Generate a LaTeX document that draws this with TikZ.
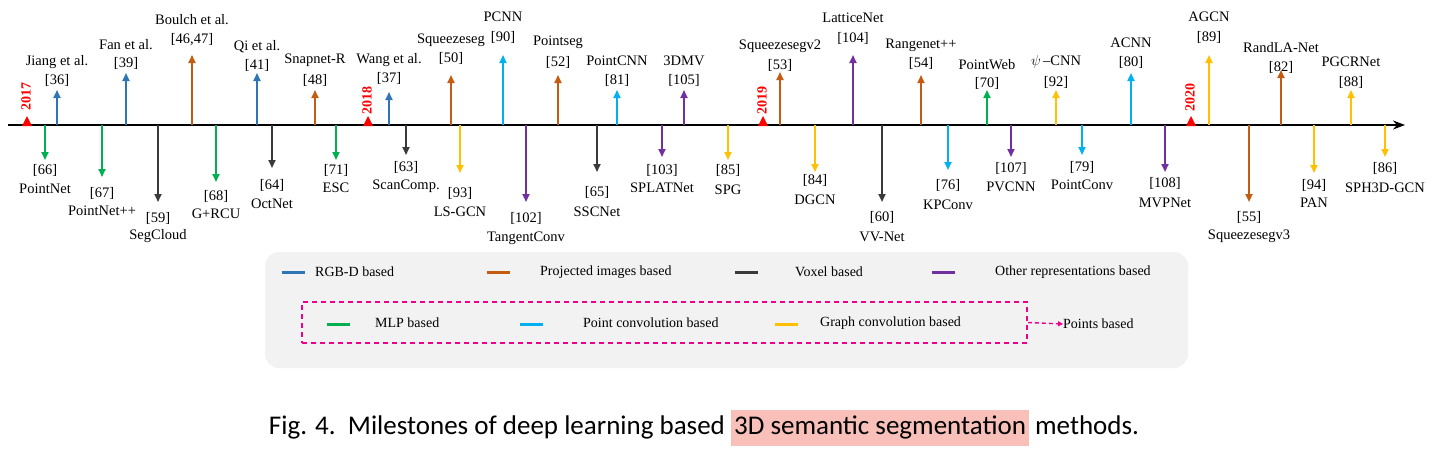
\documentclass[tikz,border=0pt]{standalone}
\usepackage{fontspec}
\setmainfont{Liberation Serif}
\newfontfamily\capfont{Carlito}
\usetikzlibrary{arrows.meta}
\definecolor{cB}{HTML}{2E75B6}
\definecolor{cO}{HTML}{C55A11}
\definecolor{cK}{HTML}{3A3A3A}
\definecolor{cP}{HTML}{7030A0}
\definecolor{cG}{HTML}{00B050}
\definecolor{cC}{HTML}{00B0F0}
\definecolor{cY}{HTML}{FFC000}
\definecolor{legbg}{HTML}{F2F2F2}
\definecolor{hl}{HTML}{F8C0B8}
\begin{document}
\begin{tikzpicture}[x=1pt,y=-1pt,
  lab/.style={font=\fontsize{14.5}{16}\selectfont,inner sep=0pt},
  leg/.style={font=\fontsize{14}{16}\selectfont,inner sep=0pt,anchor=west},
  mil/.style={line width=1.8pt,-{Triangle[width=7pt,length=8pt]}},
  legline/.style={line width=3pt},
  yr/.style={red,font=\bfseries\fontsize{14}{16}\selectfont,rotate=90,inner sep=0pt}]
\useasboundingbox (0,0) rectangle (1440,455);
% axis
\coordinate (a0) at (8,125);
\coordinate (a1) at (1405,125);
\draw[line width=2pt,-{Stealth[width=9pt,length=12pt]}] (a0) -- (a1);
% up milestones: x/tip/color/line1/line2/y1/y2
\foreach \x/\t/\c/\la/\lb/\ya/\yb [count=\i] in {
 57/90/cB/Jiang et al./{[36]}/62/80,
 126/73/cB/Fan et al./{[39]}/45/63,
 192/55/cO/Boulch et al./{[46,47]}/20/40,
 257/73/cB/Qi et al./{[41]}/47/65,
 315/90/cO/Snapnet-R/{[48]}/60/80,
 389/92/cB/Wang et al./{[37]}/60/78,
 451/75/cO/Squeezeseg/{[50]}/40/58,
 503/55/cC/PCNN/{[90]}/17/37,
 558/75/cO/Pointseg/{[52]}/42/62,
 617/90/cC/PointCNN/{[81]}/61/80,
 684/90/cP/3DMV/{[105]}/61/80,
 780/72/cO/Squeezesegv2/{[53]}/46/65,
 853/55/cP/LatticeNet/{[104]}/18/38,
 921/75/cO/Rangenet++/{[54]}/45/63,
 987/90/cG/PointWeb/{[70]}/65/83,
 1056/90/cY/$\psi$\,--CNN/{[92]}/62/82,
 1131/73/cC/ACNN/{[80]}/43/62,
 1209/55/cY/AGCN/{[89]}/17/37,
 1281/70/cO/RandLA-Net/{[82]}/48/67,
 1351/90/cY/PGCRNet/{[88]}/62/82}{
  \coordinate (u\i) at (\x,125);
  \coordinate (ut\i) at (\x,\t);
  \draw[mil,\c] (u\i) -- (ut\i);
  \node[lab] (una\i) at (\x,\ya) {\la};
  \node[lab] (unb\i) at (\x,\yb) {\lb};
}
% down milestones: x/tip/color/line1/line2/y1/y2
\foreach \x/\t/\c/\la/\lb/\ya/\yb [count=\i] in {
 45/160/cG/{[66]}/PointNet/170/189,
 102/177/cG/{[67]}/PointNet++/193/211,
 158/202/cK/{[59]}/SegCloud/218/236,
 216/182/cG/{[68]}/G+RCU/196/214,
 272/168/cK/{[64]}/OctNet/185/204,
 336/160/cG/{[71]}/ESC/170/188,
 406/155/cK/{[63]}/ScanComp./167/186,
 460/173/cY/{[93]}/LS-GCN/193/212,
 526/202/cP/{[102]}/TangentConv/218/238,
 597/172/cK/{[65]}/SSCNet/192/212,
 662/157/cP/{[103]}/SPLATNet/170/188,
 728/160/cY/{[85]}/SPG/170/190,
 815/172/cY/{[84]}/DGCN/180/200,
 882/202/cK/{[60]}/VV-Net/217/237,
 948/170/cC/{[76]}/KPConv/185/205,
 1011/157/cP/{[107]}/PVCNN/168/187,
 1082/155/cC/{[79]}/PointConv/167/185,
 1165/172/cP/{[108]}/MVPNet/183/203,
 1249/202/cO/{[55]}/Squeezesegv3/217/236,
 1314/173/cY/{[94]}/PAN/185/203,
 1385/157/cY/{[86]}/SPH3D-GCN/168/188}{
  \coordinate (d\i) at (\x,125);
  \coordinate (dt\i) at (\x,\t);
  \draw[mil,\c] (d\i) -- (dt\i);
  \node[lab] (dna\i) at (\x,\ya) {\la};
  \node[lab] (dnb\i) at (\x,\yb) {\lb};
}
% years
\foreach \x/\y/\yy [count=\i] in {27/96/2017,368/100/2018,763/100/2019,1191/97/2020}{
  \fill[red] (\x-5,126) -- (\x+5,126) -- (\x,116) -- cycle;
  \node[yr] (y\i) at (\x-1,\y) {\yy};
}
% legend
\fill[legbg,rounded corners=14pt] (265,252) rectangle (1188,368);
\foreach \xa/\c/\xt/\t [count=\i] in {282/cB/315/RGB-D based,487/cO/540/Projected images based,735/cK/795/Voxel based,932/cP/995/Other representations based}{
  \coordinate (la\i) at (\xa,272);
  \coordinate (lb\i) at (\xa+23,272);
  \draw[legline,\c] (la\i) -- (lb\i);
  \node[leg] (lt\i) at (\xt,272) {\t};
}
\node[draw=magenta,dashed,line width=1.6pt,dash pattern=on 5pt off 4pt,minimum width=725pt,minimum height=41pt,inner sep=0pt] (pb) at (664.5,322.5) {};
\foreach \xa/\c/\xt/\t [count=\i] in {327/cG/375/MLP based,520/cC/583/Point convolution based,775/cY/820/Graph convolution based}{
  \coordinate (ma\i) at (\xa,324);
  \coordinate (mb\i) at (\xa+23,324);
  \draw[legline,\c] (ma\i) -- (mb\i);
  \node[leg] (mt\i) at (\xt,323) {\t};
}
\node[leg] (ptb) at (1063,324) {Points based};
\draw[magenta,line width=1.4pt,dash pattern=on 4pt off 3pt,-{Triangle[width=5pt,length=5pt]}] (pb.east) -- (ptb.west);
% caption
\node[inner sep=0pt,font=\capfont\fontsize{27}{30}\selectfont] (cap) at (704,428)
 {Fig. 4.\ \ Milestones of deep learning based \colorbox{hl}{\strut 3D semantic segmentation} methods.};
\end{tikzpicture}
\end{document}
